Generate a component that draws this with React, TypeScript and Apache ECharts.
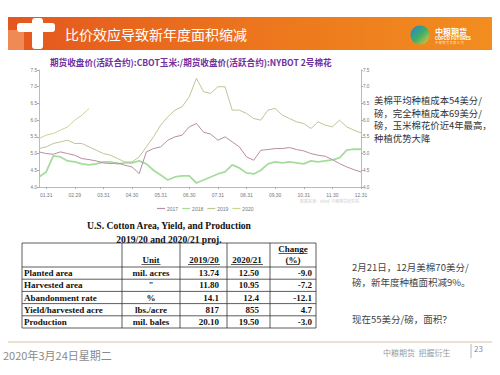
import React, { useEffect, useRef } from "react";
import * as echarts from "echarts";

// ---------- data ----------
const monthLabels = ["01.31", "02.29", "03.31", "04.30", "05.31", "06.30", "07.31", "08.31", "09.30", "10.31", "11.30", "12.31"];
const seriesNames = ["2017", "2018", "2019", "2020"];
const weekCategories = Array.from({ length: 46 }, (_, i) => "W" + i);

const ratio2017 = [5.05, 5.0, 4.98, 5.05, 5.0, 4.95, 4.85, 4.82, 4.78, 4.72, 4.7, 4.72, 4.65, 4.6, 4.4, 5.05, 5.15, 5.2, 5.4, 5.5, 5.55, 5.8, 5.9, 5.64, 5.58, 5.4, 5.5, 5.35, 5.2, 4.9, 4.8, 5.1, 5.12, 5.15, 5.15, 5.18, 5.12, 5.08, 5.0, 4.95, 4.92, 4.82, 4.7, 4.6, 4.52, 4.45];
const ratio2018 = [4.3, 4.45, 4.93, 4.9, 4.78, 4.75, 4.69, 4.66, 4.69, 4.75, 4.75, 4.69, 4.72, 4.72, 4.78, 4.69, 4.5, 4.36, 4.21, 4.3, 4.33, 4.33, 4.12, 4.21, 4.3, 4.39, 4.45, 4.66, 4.57, 4.42, 4.39, 4.5, 4.69, 4.75, 4.72, 4.75, 4.72, 4.69, 4.78, 4.75, 4.78, 4.81, 4.87, 5.1, 5.13, 5.13];
const ratio2019 = [5.15, 5.2, 5.3, 5.35, 5.4, 5.3, 5.3, 5.2, 5.1, 5.0, 4.95, 4.85, 4.75, 4.75, 4.9, 5.2, 5.5, 5.85, 6.1, 6.3, 6.4, 6.7, 7.25, 6.85, 6.8, 7.0, 7.0, 6.3, 6.3, 6.2, 6.05, 6.0, 6.3, 6.35, 6.15, 6.05, 5.95, 5.9, 5.75, 5.95, 5.85, 5.8, 6.0, 5.8, 5.7, 5.62];
const ratio2020 = [5.45, 5.55, 5.6, 5.7, 5.8, 6.0, 6.15, 6.35];

const yTicks = { min: 4, max: 7.5, step: 0.5 };

const slideTitle = "比价效应导致新年度面积缩减";
const chartTitle = "期货收盘价(活跃合约):CBOT玉米:/期货收盘价(活跃合约):NYBOT 2号棉花";
const noteLines = ["美棉平均种植成本54美分/", "磅，完全种植成本69美分/", "磅，玉米棉花价近4年最高，", "种植优势大降"];
const commentLines = ["2月21日，12月美棉70美分/", "磅，新年度种植面积减9%。", "现在55美分/磅，面积？"];

const tableTitle = ["U.S. Cotton Area, Yield, and Production", "2019/20 and 2020/21 proj."];
const tableHeaders = ["Unit", "2019/20", "2020/21", "Change", "(%)"];
const rowLabels = ["Planted area", "Harvested area", "Abandonment rate", "Yield/harvested acre", "Production"];
const rowUnits = ["mil. acres", "\"", "%", "lbs./acre", "mil. bales"];
const values1920 = ["13.74", "11.80", "14.1", "817", "20.10"];
const values2021 = ["12.50", "10.95", "12.4", "855", "19.50"];
const changePct = ["-9.0", "-7.2", "-12.1", "4.7", "-3.0"];

const footerDate = "2020年3月24日星期二";
const pageNo = "23";

// ---------- helpers ----------
const CJK = "'Noto Sans CJK SC', 'Noto Sans', sans-serif";
const SERIF = "'Liberation Serif', 'DejaVu Serif', serif";

function T(x: number, y: number, text: string, size: number, color: string, o: any = {}) {
  const align = o.align || "left";
  const va = o.va || "middle";
  const style: any = {
    text,
    fill: color,
    fontSize: size,
    fontFamily: o.family || CJK,
    fontWeight: o.weight || "normal",
    align,
    textAlign: align,
    verticalAlign: va,
    textVerticalAlign: va,
  };
  if (o.lh) style.lineHeight = o.lh;
  return { type: "text", x, y, silent: true, z: 10, style };
}
function L(x1: number, y1: number, x2: number, y2: number, color: string, w = 1) {
  return { type: "line", silent: true, z: 10, shape: { x1, y1, x2, y2 }, style: { stroke: color, lineWidth: w } };
}

export default function App() {
  const ref = useRef<HTMLDivElement>(null);

  useEffect(() => {
    if (!ref.current) return;
    const chart = echarts.init(ref.current, undefined, { renderer: "svg" });

    const g: any[] = [];
    // header band
    g.push({
      type: "rect",
      shape: { x: 8, y: 17, width: 484, height: 33 },
      style: {
        fill: new echarts.graphic.LinearGradient(0, 0, 1, 0, [
          { offset: 0, color: "#e4571f" },
          { offset: 0.5, color: "#ec751d" },
          { offset: 1, color: "#f28d1f" },
        ]),
      },
    });
    g.push({ type: "rect", shape: { x: 8, y: 30, width: 16, height: 20 }, style: { fill: "rgba(250,180,130,0.55)" } });
    g.push({ type: "rect", shape: { x: 17, y: 23, width: 38, height: 9, r: 3 }, style: { fill: "#ffffff" } });
    g.push({ type: "rect", shape: { x: 32, y: 18, width: 11, height: 31, r: 3 }, style: { fill: "#ffffff" } });
    g.push(T(65, 34, slideTitle, 14, "#ffffff"));
    // right logo
    g.push({
      type: "circle",
      shape: { cx: 420, cy: 35, r: 9.5 },
      style: {
        fill: new echarts.graphic.LinearGradient(0, 0, 1, 1, [
          { offset: 0, color: "#2b7fd4" },
          { offset: 0.5, color: "#3aae6a" },
          { offset: 1, color: "#f3c43a" },
        ]),
      },
    });
    g.push(T(435, 31, "中粮期货", 8, "#ffffff", { weight: "bold", lh: 9 }));
    g.push(T(435, 38.5, "COFCO FUTURES", 4.6, "#ffffff", { weight: "bold", family: "Roboto, sans-serif", lh: 5 }));
    g.push(T(435, 43, "中 粮 期 货 有 限 公 司", 3, "rgba(255,255,255,0.8)", { lh: 3.5 }));

    // chart title
    g.push(T(50, 62, chartTitle, 8.6, "#7030a0", { weight: "bold" }));
    // faint source watermark
    g.push(T(300, 201, "数据来源：Wind  中粮期货研究院", 4, "#cfcfcf"));

    // right notes
    noteLines.forEach((s, i) => g.push(T(374, 100 + i * 12.5, s, 9.4, "#333333", { lh: 11 })));
    // table title
    g.push(T(169, 225, tableTitle[0], 9.6, "#111111", { family: SERIF, weight: "bold", align: "center" }));
    g.push(T(169, 239, tableTitle[1], 9.6, "#111111", { family: SERIF, weight: "bold", align: "center" }));

    // table grid
    const colX = [22, 122, 180, 227, 270, 316];
    const rowY = [243, 267, 279.2, 291.4, 303.6, 315.8, 328];
    const tc = "#333333";
    colX.forEach((x) => g.push(L(x, rowY[0], x, rowY[rowY.length - 1], tc, 0.8)));
    rowY.forEach((y) => g.push(L(colX[0], y, colX[colX.length - 1], y, tc, 0.8)));
    // headers
    const hb = { family: SERIF, weight: "bold", align: "center", lh: 10 };
    const headCx = [151, 204, 247, 293, 293];
    const headY = [260, 260, 260, 249, 260];
    const headW = [19, 32, 32, 29, 13];
    tableHeaders.forEach((h, i) => {
      g.push(T(headCx[i], headY[i], h, 9, "#111111", hb));
      g.push(L(headCx[i] - headW[i] / 2, headY[i] + 4.5, headCx[i] + headW[i] / 2, headY[i] + 4.5, "#111111", 0.7));
    });
    rowLabels.forEach((lab, i) => {
      const cy = (rowY[i + 1] + rowY[i + 2]) / 2;
      const o = { family: SERIF, weight: "bold", lh: 10 };
      g.push(T(24, cy, lab, 9, "#111111", o));
      g.push(T(151, cy, rowUnits[i], 9, "#111111", { ...o, align: "center" }));
      g.push(T(219, cy, values1920[i], 9, "#111111", { ...o, align: "right" }));
      g.push(T(259, cy, values2021[i], 9, "#111111", { ...o, align: "right" }));
      g.push(T(312, cy, changePct[i], 9, "#111111", { ...o, align: "right" }));
    });

    // comment text
    commentLines.forEach((s, i) => g.push(T(352, [267, 282, 319][i], s, 9.5, "#444444")));

    // footer
    g.push(L(8, 342, 492, 342, "#cdb38c", 0.8));
    g.push(T(3, 355, footerDate, 11, "#8a8a8a"));
    g.push(T(383, 352, "中粮期货  把握衍生", 8, "#9a9a9a"));
    g.push(L(471, 344, 471, 358, "#9aa6b8", 0.8));
    g.push(T(474, 348, pageNo, 8, "#7d8ca3"));

    const colors = ["#b88ea5", "#a6dd9c", "#c0c596", "#cad68e"];
    const data = [ratio2017, ratio2018, ratio2019, ratio2020];
    const showIdx = (i: number) => (i - 1) % 4 === 0;

    const yAxisBase = {
      type: "value",
      min: yTicks.min,
      max: yTicks.max,
      interval: yTicks.step,
      axisLine: { show: true, lineStyle: { color: "#aaaaaa", width: 0.8 } },
      axisTick: { show: true, length: 2, lineStyle: { color: "#aaaaaa" } },
      axisLabel: { fontSize: 4.6, color: "#777777", margin: 2, formatter: (v: number) => v.toFixed(1) },
      splitLine: { show: false },
    };

    chart.setOption({
      animation: false,
      backgroundColor: "#ffffff",
      color: colors,
      grid: { left: 39, right: 139, top: 70, bottom: 188 },
      legend: {
        data: seriesNames,
        left: 152,
        top: 201,
        icon: "rect",
        itemWidth: 8,
        itemHeight: 1.2,
        itemGap: 4,
        textStyle: { fontSize: 5, color: "#777777", padding: [0, 0, 0, -3] },
      },
      xAxis: {
        type: "category",
        boundaryGap: false,
        data: weekCategories,
        axisLine: { lineStyle: { color: "#aaaaaa", width: 0.8 } },
        axisTick: { interval: (i: number) => showIdx(i), length: 2, lineStyle: { color: "#aaaaaa" } },
        axisLabel: {
          interval: (i: number) => showIdx(i),
          formatter: (_v: string, i: number) => monthLabels[(i - 1) / 4] || "",
          fontSize: 5,
          color: "#777777",
          margin: 5,
        },
      },
      yAxis: [
        { ...yAxisBase, position: "left" },
        { ...yAxisBase, position: "right" },
      ],
      series: seriesNames.map((n, k) => ({
        name: n,
        type: "line",
        data: data[k],
        symbol: "none",
        smooth: false,
        lineStyle: { width: k === 1 ? 1.8 : 1, color: colors[k] },
        z: k === 1 ? 2 : 3,
      })),
      graphic: g,
    });

    return () => chart.dispose();
  }, []);

  return <div ref={ref} style={{ position: "fixed", left: 0, top: 0, width: 500, height: 375 }} />;
}
